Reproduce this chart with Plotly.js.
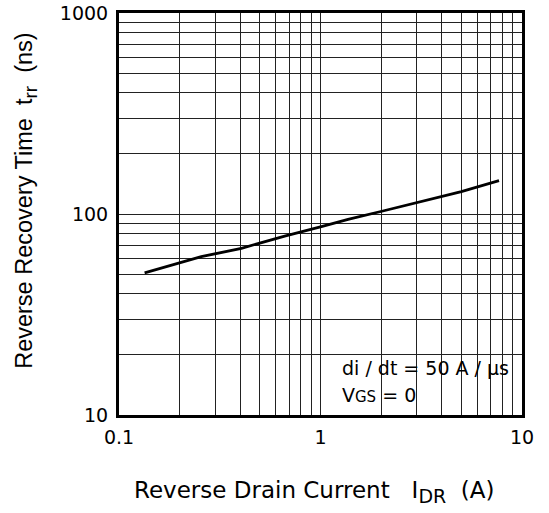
<!DOCTYPE html>
<html>
<head>
<meta charset="utf-8">
<script src="https://cdn.plot.ly/plotly-3.0.1.min.js"></script>
<style>
html,body{margin:0;padding:0;background:#fff;}
#chart{width:549px;height:513px;}
</style>
</head>
<body>
<div id="chart"></div>
<script>
// Reverse drain current I_DR (A)
var currentA = [0.134, 0.256, 0.405, 0.49, 0.664, 1.01, 1.37, 2.04, 3.05, 5.0, 7.69];
// Reverse recovery time t_rr (ns)
var trrNs = [51.0, 61.3, 67.5, 71.5, 77.7, 86.5, 94.1, 103.5, 114.3, 129.2, 146.5];

var xTickVals = [0.1, 1, 10];
var xTickText = ['0.1', '1', '10'];
var yTickVals = [10, 100, 1000];
var yTickText = ['10', '100', '1000'];
var xMinorVals = [0.2,0.3,0.4,0.5,0.6,0.7,0.8,0.9,2,3,4,5,6,7,8,9];
var yMinorVals = [20,30,40,50,60,70,80,90,200,300,400,500,600,700,800,900];

var HFONT = '"DejaVu Sans", Verdana, sans-serif';
var VFONT = '"Liberation Sans", Arial, Helvetica, sans-serif';
var GRID = '#222';

var trace = {
  x: currentA,
  y: trrNs,
  type: 'scatter',
  mode: 'lines',
  line: {color: '#000', width: 2.8},
  hoverinfo: 'skip',
  showlegend: false
};

var layout = {
  width: 549,
  height: 513,
  margin: {l: 119, r: 27, t: 13, b: 98, pad: 0},
  paper_bgcolor: '#fff',
  plot_bgcolor: '#fff',
  font: {family: HFONT, size: 19, color: '#000'},
  showlegend: false,
  xaxis: {
    type: 'log',
    range: [-1, 1],
    tickmode: 'array',
    tickvals: xTickVals,
    ticktext: xTickText,
    ticks: '',
    ticklabelstandoff: 3,
    tickfont: {family: HFONT, size: 19, color: '#000'},
    showgrid: true,
    gridcolor: GRID,
    gridwidth: 1,
    minor: {tickmode: 'array', tickvals: xMinorVals, showgrid: true, gridcolor: GRID, gridwidth: 1, ticks: ''},
    showline: true,
    linecolor: '#000',
    linewidth: 3,
    mirror: true,
    zeroline: false,
    fixedrange: true
  },
  yaxis: {
    type: 'log',
    range: [1, 3],
    tickmode: 'array',
    tickvals: yTickVals,
    ticktext: yTickText,
    ticks: '',
    ticklabelstandoff: 4,
    tickfont: {family: HFONT, size: 19, color: '#000'},
    showgrid: true,
    gridcolor: GRID,
    gridwidth: 1,
    minor: {tickmode: 'array', tickvals: yMinorVals, showgrid: true, gridcolor: GRID, gridwidth: 1, ticks: ''},
    showline: true,
    linecolor: '#000',
    linewidth: 3,
    mirror: true,
    zeroline: false,
    fixedrange: true
  },
  shapes: [
    {type: 'rect', xref: 'paper', yref: 'paper', x0: 0.536, x1: 0.825, y0: 0.014, y1: 0.164,
     fillcolor: '#fff', line: {width: 0}, layer: 'between'}
  ],
  annotations: [
    {xref: 'paper', yref: 'paper', x: 0.548, y: 0.117, xanchor: 'left', yanchor: 'middle',
     text: 'di / dt = 50 A / µs', showarrow: false, font: {family: HFONT, size: 19, color: '#000'}},
    {xref: 'paper', yref: 'paper', x: 0.548, y: 0.050, xanchor: 'left', yanchor: 'middle',
     text: 'V<span style="font-size:15px">GS</span> = 0', showarrow: false, font: {family: HFONT, size: 19, color: '#000'}},
    {xref: 'paper', yref: 'paper', x: 0.484, y: -0.192, xanchor: 'center', yanchor: 'middle',
     text: 'Reverse Drain Current\u00a0\u00a0\u00a0I<sub><span style="font-size:19px">DR</span></sub>\u00a0\u00a0(A)', showarrow: false,
     font: {family: HFONT, size: 23, color: '#000'}},
    {xref: 'paper', yref: 'paper', x: -0.231, y: 0.535, xanchor: 'center', yanchor: 'middle', textangle: -90,
     text: 'Reverse Recovery Time\u00a0\u00a0t<sub><span style="font-size:19px">rr</span></sub>\u00a0\u00a0(ns)', showarrow: false,
     font: {family: VFONT, size: 23.5, color: '#000'}}
  ]
};

Plotly.newPlot('chart', [trace], layout, {staticPlot: true, displayModeBar: false});
</script>
</body>
</html>
